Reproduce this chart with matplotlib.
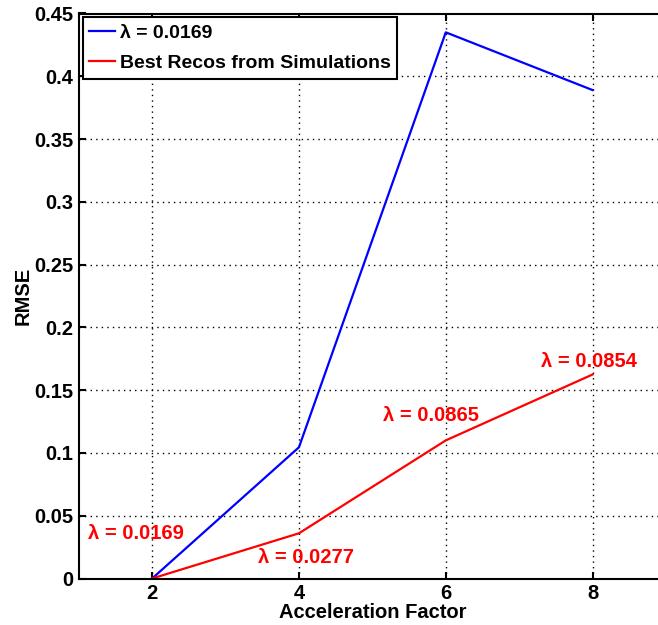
import matplotlib
matplotlib.use('Agg')
from matplotlib import pyplot as plt
from matplotlib.ticker import FuncFormatter

plt.rcParams['font.family'] = ['Liberation Sans', 'DejaVu Sans']
plt.rcParams['font.weight'] = 'bold'
plt.rcParams['font.size'] = 14.5

accel = [2, 4, 6, 8]
rmse_fixed = [0.0, 0.1045, 0.435, 0.389]
rmse_best = [0.0, 0.036, 0.110, 0.1625]
best_lambdas = ['0.0169', '0.0277', '0.0865', '0.0854']
label_pos = [(1.13, 0.036), (3.44, 0.017), (5.15, 0.130), (7.30, 0.173)]

fig = plt.figure(figsize=(6.58, 6.25), dpi=100)
ax = fig.add_axes([0.1196, 0.0744, 0.8926, 0.904])

ax.plot(accel, rmse_fixed, color='#0000ff', lw=1.6, label='λ = 0.0169')
ax.plot(accel, rmse_best, color='#ff0000', lw=1.6, label='Best Recos from Simulations')

for lam, (tx, ty) in zip(best_lambdas, label_pos):
	ax.text(tx, ty, f'λ = {lam}', color='#ff0000', fontweight='bold',
		ha='left', va='center')

ax.set_xlim(1, 9)
ax.set_ylim(0, 0.45)
ax.set_xticks(accel)
ax.set_yticks([i * 0.05 for i in range(10)])
ax.yaxis.set_major_formatter(FuncFormatter(lambda v, p: f'{v:g}'))
ax.grid(True, color='black', linestyle=(0, (1, 3)), lw=1.0)
ax.tick_params(direction='in', length=5, width=1.5, top=True, right=True, pad=4)
for s in ax.spines.values():
	s.set_linewidth(1.5)

ax.set_xlabel('Acceleration Factor', fontweight='bold', labelpad=0)
ax.set_ylabel('RMSE', fontweight='bold', labelpad=1)

leg = ax.legend(loc='upper left', fancybox=False, edgecolor='black',
	framealpha=1, handlelength=1.3, handletextpad=0.25, labelspacing=0.65,
	borderpad=0.35, borderaxespad=0.2, fontsize=14)
leg.get_frame().set_linewidth(1.5)

fig.savefig('out.png', dpi=100)
